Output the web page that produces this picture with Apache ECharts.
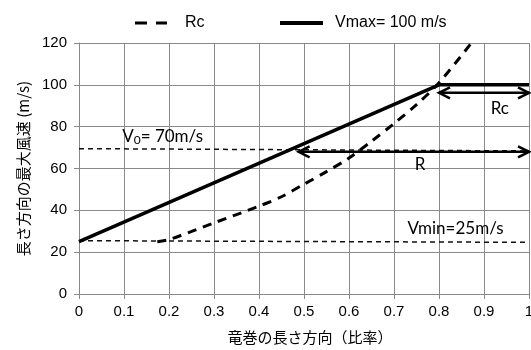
<!DOCTYPE html>
<html><head><meta charset="utf-8">
<script src="https://cdn.jsdelivr.net/npm/echarts@6/dist/echarts.min.js"></script>
<style>html,body{margin:0;padding:0;background:#fff}#c{width:531px;height:350px}</style>
</head><body><div id="c"></div>
<script>
// ---- data ----
const xTicks = [0, 0.1, 0.2, 0.3, 0.4, 0.5, 0.6, 0.7, 0.8, 0.9, 1];
const rcX = [0.174, 0.2, 0.3, 0.4, 0.45, 0.5, 0.55, 0.6, 0.65, 0.7, 0.75, 0.8, 0.872];
const rcY = [25, 26, 34, 42, 46.5, 52.5, 58.5, 65, 73, 81.5, 90.5, 101, 120];
const vmaxX = [0, 0.8, 1];
const vmaxY = [25, 100, 100];
const v0X = [0, 1];
const v0Y = [69.5, 68.4];
const vminX = [0, 1];
const vminY = [25.5, 24.7];
// arrows: [xStart, xEnd, y]
const arrowStart = [0.488, 0.8];
const arrowEnd = [1, 1];
const arrowY = [68, 96.2];
// annotations
const noteText = ['{v|V}{s|0}{v|= 70m/s}', 'Vmin=25m/s', 'R', 'Rc'];
const noteX = [0.096, 0.73, 0.758, 0.935];
const noteY = [75.5, 31.5, 61.7, 88.9];
const noteAlign = ['left', 'left', 'center', 'center'];
const legendNames = ['Rc', 'Vmax= 100 m/s'];

const pair = (xs, ys) => xs.map((x, i) => [x, ys[i]]);

const chart = echarts.init(document.getElementById('c'));
const axisFont = {fontFamily: 'Liberation Sans', fontSize: 15, color: '#000'};
const noteFont = 'Lato';
const legendText = {fontFamily: 'Liberation Sans', fontSize: 16, color: '#000'};

chart.setOption({
  animation: false,
  legend: [
    {data: [{name: legendNames[0], icon: 'path://M0,0h12v3h-12zM21,0h11v3h-11z'}],
     left: 130, top: 10, itemWidth: 32, itemHeight: 3,
     itemStyle: {color: '#000'},
     textStyle: Object.assign({padding: [0, 0, 0, 13]}, legendText)},
    {data: [{name: legendNames[1], icon: 'path://M0,0h43v4h-43z'}],
     left: 275, top: 10, itemWidth: 43, itemHeight: 4,
     itemStyle: {color: '#000'},
     textStyle: Object.assign({padding: [0, 0, 0, 7]}, legendText)}
  ],
  grid: {left: 79, right: 2, top: 43, bottom: 56, containLabel: false, outerBoundsMode: 'none'},
  xAxis: {
    type: 'value', min: 0, max: 1, interval: 0.1,
    name: '竜巻の長さ方向（比率）', nameLocation: 'middle', nameGap: 36,
    nameTextStyle: {fontFamily: 'Noto Sans CJK JP', fontSize: 15, color: '#000', padding: [0, 0, 0, 12]},
    axisLine: {lineStyle: {color: '#888', width: 1}},
    axisTick: {show: true, length: 5, lineStyle: {color: '#888'}},
    axisLabel: Object.assign({margin: 10, formatter: v => String(+v.toFixed(1))}, axisFont),
    splitLine: {show: true, lineStyle: {color: '#8a8a8a', width: 1}}
  },
  yAxis: {
    type: 'value', min: 0, max: 120, interval: 20,
    name: '長さ方向の最大風速 (m/s)', nameLocation: 'middle', nameGap: 47,
    nameTextStyle: {fontFamily: 'Noto Sans CJK JP', fontSize: 15, color: '#000'},
    axisLine: {show: true, lineStyle: {color: '#888', width: 1}},
    axisTick: {show: true, length: 5, lineStyle: {color: '#888'}},
    axisLabel: Object.assign({margin: 12}, axisFont),
    splitLine: {show: true, lineStyle: {color: '#8a8a8a', width: 1}}
  },
  series: [
    {name: legendNames[0], type: 'line', data: pair(rcX, rcY), smooth: 0.3, symbol: 'none',
     lineStyle: {color: '#000', width: 3, type: [9, 7]}, itemStyle: {color: '#000'}, z: 4},
    {name: legendNames[1], type: 'line', data: pair(vmaxX, vmaxY), symbol: 'none',
     lineStyle: {color: '#000', width: 3.5}, itemStyle: {color: '#000'}, z: 5},
    {name: 'V0', type: 'line', data: pair(v0X, v0Y), symbol: 'none',
     lineStyle: {color: '#111', width: 1.5, type: [5, 4]}, z: 3},
    {name: 'Vmin', type: 'line', data: pair(vminX, vminY), symbol: 'none',
     lineStyle: {color: '#111', width: 1.5, type: [5, 4]}, z: 3},
    {name: 'arrows', type: 'custom', coordinateSystem: 'cartesian2d', clip: false, z: 6,
     data: arrowStart.map((s, i) => [s, arrowEnd[i], arrowY[i]]),
     encode: {x: [0, 1], y: 2},
     renderItem: (params, api) => {
       const p1 = api.coord([api.value(0), api.value(2)]);
       const p2 = api.coord([api.value(1), api.value(2)]);
       const st = {stroke: '#000', lineWidth: 2.5, fill: null};
       const L = 11, W = 5.5;
       return {type: 'group', children: [
         {type: 'line', shape: {x1: p1[0], y1: p1[1], x2: p2[0], y2: p2[1]}, style: st},
         {type: 'polyline', shape: {points: [[p1[0] + L, p1[1] - W], [p1[0], p1[1]], [p1[0] + L, p1[1] + W]]}, style: st},
         {type: 'polyline', shape: {points: [[p2[0] - L, p2[1] - W], [p2[0], p2[1]], [p2[0] - L, p2[1] + W]]}, style: st}
       ]};
     }},
    {name: 'notes', type: 'custom', coordinateSystem: 'cartesian2d', clip: false, z: 7,
     data: noteX.map((x, i) => [x, noteY[i], i]),
     encode: {x: 0, y: 1},
     renderItem: (params, api) => {
       const i = api.value(2);
       const p = api.coord([api.value(0), api.value(1)]);
       return {type: 'text', x: p[0], y: p[1], style: {
         text: noteText[i], align: noteAlign[i], verticalAlign: 'middle',
         fontFamily: noteFont, fontSize: 17, fill: '#000',
         rich: {v: {fontFamily: noteFont, fontSize: 17, fill: '#000'},
                s: {fontFamily: noteFont, fontSize: 12, fill: '#000', padding: [8, 0, 0, 0]}}
       }};
     }}
  ]
});
</script></body></html>
